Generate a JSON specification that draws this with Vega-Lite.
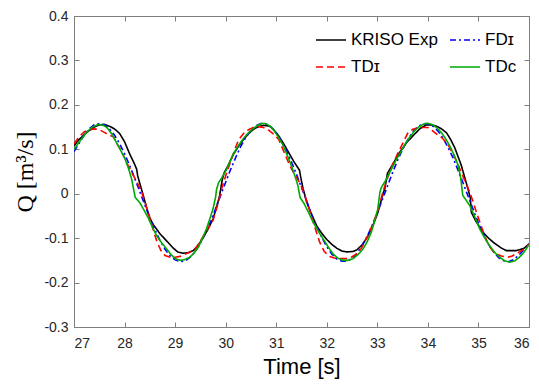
{
  "$schema": "https://vega.github.io/schema/vega-lite/v6.json",
  "width": 455,
  "height": 311,
  "autosize": {"type": "none"},
  "padding": {"left": 74, "top": 16, "right": 10, "bottom": 58},
  "background": "white",
  "config": {
    "view": {"stroke": "#7f7f7f", "strokeWidth": 1},
    "font": "Liberation Sans",
    "axis": {
      "grid": false,
      "domainColor": "#7f7f7f",
      "tickColor": "#7f7f7f",
      "labelColor": "#262626",
      "labelFont": "Liberation Sans",
      "labelFontSize": 14,
      "tickSize": -5,
      "titleColor": "#000000",
      "titleFontWeight": "normal"
    },
    "legend": {
      "orient": "none",
      "legendX": 241,
      "legendY": 8,
      "columns": 2,
      "symbolType": "stroke",
      "symbolSize": 900,
      "symbolStrokeWidth": 1.6,
      "labelFont": "Liberation Sans",
      "labelFontSize": 17,
      "labelColor": "#000000",
      "labelOffset": 4,
      "columnPadding": 8,
      "rowPadding": 3,
      "padding": 0
    }
  },
  "data": {
    "values": [
      {"s":"KRISO Exp","t":27.0,"q":0.108},{"s":"KRISO Exp","t":27.1,"q":0.122},{"s":"KRISO Exp","t":27.25,"q":0.138},{"s":"KRISO Exp","t":27.4,"q":0.150},{"s":"KRISO Exp","t":27.5,"q":0.155},{"s":"KRISO Exp","t":27.6,"q":0.156},{"s":"KRISO Exp","t":27.7,"q":0.152},{"s":"KRISO Exp","t":27.8,"q":0.146},{"s":"KRISO Exp","t":27.9,"q":0.136},{"s":"KRISO Exp","t":28.0,"q":0.117},{"s":"KRISO Exp","t":28.1,"q":0.090},{"s":"KRISO Exp","t":28.2,"q":0.066},{"s":"KRISO Exp","t":28.24,"q":0.055},{"s":"KRISO Exp","t":28.26,"q":0.040},{"s":"KRISO Exp","t":28.3,"q":0.024},{"s":"KRISO Exp","t":28.37,"q":-0.004},{"s":"KRISO Exp","t":28.44,"q":-0.033},{"s":"KRISO Exp","t":28.5,"q":-0.055},{"s":"KRISO Exp","t":28.57,"q":-0.070},{"s":"KRISO Exp","t":28.7,"q":-0.090},{"s":"KRISO Exp","t":28.83,"q":-0.106},{"s":"KRISO Exp","t":28.96,"q":-0.122},{"s":"KRISO Exp","t":29.05,"q":-0.131},{"s":"KRISO Exp","t":29.15,"q":-0.134},{"s":"KRISO Exp","t":29.25,"q":-0.133},{"s":"KRISO Exp","t":29.36,"q":-0.128},{"s":"KRISO Exp","t":29.45,"q":-0.117},{"s":"KRISO Exp","t":29.55,"q":-0.100},{"s":"KRISO Exp","t":29.65,"q":-0.080},{"s":"KRISO Exp","t":29.75,"q":-0.057},{"s":"KRISO Exp","t":29.82,"q":-0.030},{"s":"KRISO Exp","t":29.88,"q":-0.005},{"s":"KRISO Exp","t":29.93,"q":0.030},{"s":"KRISO Exp","t":29.97,"q":0.047},{"s":"KRISO Exp","t":30.05,"q":0.064},{"s":"KRISO Exp","t":30.15,"q":0.088},{"s":"KRISO Exp","t":30.25,"q":0.106},{"s":"KRISO Exp","t":30.35,"q":0.122},{"s":"KRISO Exp","t":30.45,"q":0.135},{"s":"KRISO Exp","t":30.55,"q":0.145},{"s":"KRISO Exp","t":30.65,"q":0.151},{"s":"KRISO Exp","t":30.75,"q":0.154},{"s":"KRISO Exp","t":30.87,"q":0.152},{"s":"KRISO Exp","t":30.95,"q":0.144},{"s":"KRISO Exp","t":31.05,"q":0.130},{"s":"KRISO Exp","t":31.15,"q":0.112},{"s":"KRISO Exp","t":31.25,"q":0.092},{"s":"KRISO Exp","t":31.35,"q":0.072},{"s":"KRISO Exp","t":31.46,"q":0.053},{"s":"KRISO Exp","t":31.48,"q":0.040},{"s":"KRISO Exp","t":31.53,"q":0.012},{"s":"KRISO Exp","t":31.6,"q":-0.018},{"s":"KRISO Exp","t":31.7,"q":-0.047},{"s":"KRISO Exp","t":31.8,"q":-0.072},{"s":"KRISO Exp","t":31.9,"q":-0.089},{"s":"KRISO Exp","t":32.0,"q":-0.103},{"s":"KRISO Exp","t":32.1,"q":-0.114},{"s":"KRISO Exp","t":32.2,"q":-0.123},{"s":"KRISO Exp","t":32.3,"q":-0.129},{"s":"KRISO Exp","t":32.4,"q":-0.131},{"s":"KRISO Exp","t":32.52,"q":-0.130},{"s":"KRISO Exp","t":32.6,"q":-0.126},{"s":"KRISO Exp","t":32.7,"q":-0.115},{"s":"KRISO Exp","t":32.8,"q":-0.098},{"s":"KRISO Exp","t":32.9,"q":-0.075},{"s":"KRISO Exp","t":33.0,"q":-0.046},{"s":"KRISO Exp","t":33.07,"q":-0.018},{"s":"KRISO Exp","t":33.12,"q":0.003},{"s":"KRISO Exp","t":33.15,"q":0.012},{"s":"KRISO Exp","t":33.2,"q":0.046},{"s":"KRISO Exp","t":33.3,"q":0.065},{"s":"KRISO Exp","t":33.44,"q":0.093},{"s":"KRISO Exp","t":33.58,"q":0.115},{"s":"KRISO Exp","t":33.71,"q":0.131},{"s":"KRISO Exp","t":33.85,"q":0.147},{"s":"KRISO Exp","t":33.97,"q":0.155},{"s":"KRISO Exp","t":34.07,"q":0.155},{"s":"KRISO Exp","t":34.17,"q":0.152},{"s":"KRISO Exp","t":34.27,"q":0.146},{"s":"KRISO Exp","t":34.37,"q":0.137},{"s":"KRISO Exp","t":34.45,"q":0.122},{"s":"KRISO Exp","t":34.53,"q":0.104},{"s":"KRISO Exp","t":34.66,"q":0.064},{"s":"KRISO Exp","t":34.79,"q":0.012},{"s":"KRISO Exp","t":34.84,"q":-0.010},{"s":"KRISO Exp","t":34.86,"q":-0.042},{"s":"KRISO Exp","t":34.95,"q":-0.062},{"s":"KRISO Exp","t":35.09,"q":-0.087},{"s":"KRISO Exp","t":35.2,"q":-0.100},{"s":"KRISO Exp","t":35.3,"q":-0.110},{"s":"KRISO Exp","t":35.45,"q":-0.122},{"s":"KRISO Exp","t":35.55,"q":-0.128},{"s":"KRISO Exp","t":35.75,"q":-0.128},{"s":"KRISO Exp","t":35.9,"q":-0.123},{"s":"KRISO Exp","t":36.0,"q":-0.113},

      {"s":"FDɪ","t":27.0,"q":0.095},{"s":"FDɪ","t":27.1,"q":0.113},{"s":"FDɪ","t":27.2,"q":0.132},{"s":"FDɪ","t":27.3,"q":0.146},{"s":"FDɪ","t":27.4,"q":0.155},{"s":"FDɪ","t":27.5,"q":0.158},{"s":"FDɪ","t":27.6,"q":0.155},{"s":"FDɪ","t":27.7,"q":0.146},{"s":"FDɪ","t":27.8,"q":0.132},{"s":"FDɪ","t":27.9,"q":0.113},{"s":"FDɪ","t":28.0,"q":0.090},{"s":"FDɪ","t":28.1,"q":0.064},{"s":"FDɪ","t":28.2,"q":0.035},{"s":"FDɪ","t":28.3,"q":0.005},{"s":"FDɪ","t":28.4,"q":-0.025},{"s":"FDɪ","t":28.5,"q":-0.054},{"s":"FDɪ","t":28.6,"q":-0.081},{"s":"FDɪ","t":28.7,"q":-0.105},{"s":"FDɪ","t":28.8,"q":-0.125},{"s":"FDɪ","t":28.9,"q":-0.140},{"s":"FDɪ","t":29.0,"q":-0.149},{"s":"FDɪ","t":29.1,"q":-0.153},{"s":"FDɪ","t":29.2,"q":-0.151},{"s":"FDɪ","t":29.3,"q":-0.143},{"s":"FDɪ","t":29.4,"q":-0.130},{"s":"FDɪ","t":29.5,"q":-0.111},{"s":"FDɪ","t":29.6,"q":-0.089},{"s":"FDɪ","t":29.7,"q":-0.063},{"s":"FDɪ","t":29.8,"q":-0.034},{"s":"FDɪ","t":29.9,"q":-0.004},{"s":"FDɪ","t":30.0,"q":0.026},{"s":"FDɪ","t":30.1,"q":0.055},{"s":"FDɪ","t":30.2,"q":0.082},{"s":"FDɪ","t":30.3,"q":0.107},{"s":"FDɪ","t":30.4,"q":0.127},{"s":"FDɪ","t":30.5,"q":0.143},{"s":"FDɪ","t":30.6,"q":0.153},{"s":"FDɪ","t":30.7,"q":0.158},{"s":"FDɪ","t":30.8,"q":0.157},{"s":"FDɪ","t":30.9,"q":0.150},{"s":"FDɪ","t":31.0,"q":0.137},{"s":"FDɪ","t":31.1,"q":0.119},{"s":"FDɪ","t":31.2,"q":0.097},{"s":"FDɪ","t":31.3,"q":0.072},{"s":"FDɪ","t":31.4,"q":0.044},{"s":"FDɪ","t":31.5,"q":0.014},{"s":"FDɪ","t":31.6,"q":-0.016},{"s":"FDɪ","t":31.7,"q":-0.046},{"s":"FDɪ","t":31.8,"q":-0.074},{"s":"FDɪ","t":31.9,"q":-0.098},{"s":"FDɪ","t":32.0,"q":-0.119},{"s":"FDɪ","t":32.1,"q":-0.136},{"s":"FDɪ","t":32.2,"q":-0.147},{"s":"FDɪ","t":32.3,"q":-0.152},{"s":"FDɪ","t":32.4,"q":-0.152},{"s":"FDɪ","t":32.5,"q":-0.146},{"s":"FDɪ","t":32.6,"q":-0.134},{"s":"FDɪ","t":32.7,"q":-0.117},{"s":"FDɪ","t":32.8,"q":-0.096},{"s":"FDɪ","t":32.9,"q":-0.071},{"s":"FDɪ","t":33.0,"q":-0.043},{"s":"FDɪ","t":33.1,"q":-0.013},{"s":"FDɪ","t":33.2,"q":0.017},{"s":"FDɪ","t":33.3,"q":0.047},{"s":"FDɪ","t":33.4,"q":0.075},{"s":"FDɪ","t":33.5,"q":0.100},{"s":"FDɪ","t":33.6,"q":0.121},{"s":"FDɪ","t":33.7,"q":0.139},{"s":"FDɪ","t":33.8,"q":0.151},{"s":"FDɪ","t":33.9,"q":0.157},{"s":"FDɪ","t":34.0,"q":0.158},{"s":"FDɪ","t":34.1,"q":0.152},{"s":"FDɪ","t":34.2,"q":0.141},{"s":"FDɪ","t":34.3,"q":0.125},{"s":"FDɪ","t":34.4,"q":0.104},{"s":"FDɪ","t":34.5,"q":0.080},{"s":"FDɪ","t":34.6,"q":0.052},{"s":"FDɪ","t":34.7,"q":0.023},{"s":"FDɪ","t":34.8,"q":-0.007},{"s":"FDɪ","t":34.9,"q":-0.037},{"s":"FDɪ","t":35.0,"q":-0.066},{"s":"FDɪ","t":35.1,"q":-0.091},{"s":"FDɪ","t":35.2,"q":-0.114},{"s":"FDɪ","t":35.3,"q":-0.131},{"s":"FDɪ","t":35.4,"q":-0.144},{"s":"FDɪ","t":35.5,"q":-0.151},{"s":"FDɪ","t":35.6,"q":-0.153},{"s":"FDɪ","t":35.7,"q":-0.148},{"s":"FDɪ","t":35.8,"q":-0.138},{"s":"FDɪ","t":35.9,"q":-0.126},{"s":"FDɪ","t":36.0,"q":-0.112},

      {"s":"TDɪ","t":27.0,"q":0.112},{"s":"TDɪ","t":27.1,"q":0.128},{"s":"TDɪ","t":27.2,"q":0.139},{"s":"TDɪ","t":27.3,"q":0.144},{"s":"TDɪ","t":27.4,"q":0.146},{"s":"TDɪ","t":27.5,"q":0.144},{"s":"TDɪ","t":27.6,"q":0.138},{"s":"TDɪ","t":27.7,"q":0.132},{"s":"TDɪ","t":27.78,"q":0.128},{"s":"TDɪ","t":27.85,"q":0.113},{"s":"TDɪ","t":27.92,"q":0.099},{"s":"TDɪ","t":28.0,"q":0.081},{"s":"TDɪ","t":28.07,"q":0.064},{"s":"TDɪ","t":28.15,"q":0.046},{"s":"TDɪ","t":28.24,"q":0.028},{"s":"TDɪ","t":28.34,"q":0.003},{"s":"TDɪ","t":28.42,"q":-0.025},{"s":"TDɪ","t":28.5,"q":-0.055},{"s":"TDɪ","t":28.57,"q":-0.082},{"s":"TDɪ","t":28.64,"q":-0.108},{"s":"TDɪ","t":28.72,"q":-0.128},{"s":"TDɪ","t":28.8,"q":-0.139},{"s":"TDɪ","t":28.9,"q":-0.143},{"s":"TDɪ","t":29.0,"q":-0.143},{"s":"TDɪ","t":29.1,"q":-0.141},{"s":"TDɪ","t":29.2,"q":-0.136},{"s":"TDɪ","t":29.3,"q":-0.131},{"s":"TDɪ","t":29.4,"q":-0.124},{"s":"TDɪ","t":29.5,"q":-0.107},{"s":"TDɪ","t":29.6,"q":-0.087},{"s":"TDɪ","t":29.75,"q":-0.060},{"s":"TDɪ","t":29.85,"q":-0.022},{"s":"TDɪ","t":29.92,"q":0.011},{"s":"TDɪ","t":30.0,"q":0.040},{"s":"TDɪ","t":30.12,"q":0.080},{"s":"TDɪ","t":30.25,"q":0.120},{"s":"TDɪ","t":30.35,"q":0.135},{"s":"TDɪ","t":30.45,"q":0.144},{"s":"TDɪ","t":30.55,"q":0.149},{"s":"TDɪ","t":30.65,"q":0.151},{"s":"TDɪ","t":30.75,"q":0.149},{"s":"TDɪ","t":30.85,"q":0.143},{"s":"TDɪ","t":30.95,"q":0.134},{"s":"TDɪ","t":31.05,"q":0.122},{"s":"TDɪ","t":31.15,"q":0.095},{"s":"TDɪ","t":31.27,"q":0.063},{"s":"TDɪ","t":31.37,"q":0.042},{"s":"TDɪ","t":31.47,"q":0.024},{"s":"TDɪ","t":31.55,"q":0.002},{"s":"TDɪ","t":31.62,"q":-0.022},{"s":"TDɪ","t":31.68,"q":-0.045},{"s":"TDɪ","t":31.76,"q":-0.074},{"s":"TDɪ","t":31.86,"q":-0.109},{"s":"TDɪ","t":31.95,"q":-0.130},{"s":"TDɪ","t":32.05,"q":-0.141},{"s":"TDɪ","t":32.19,"q":-0.146},{"s":"TDɪ","t":32.39,"q":-0.146},{"s":"TDɪ","t":32.5,"q":-0.142},{"s":"TDɪ","t":32.6,"q":-0.135},{"s":"TDɪ","t":32.69,"q":-0.122},{"s":"TDɪ","t":32.8,"q":-0.097},{"s":"TDɪ","t":32.92,"q":-0.066},{"s":"TDɪ","t":33.02,"q":-0.035},{"s":"TDɪ","t":33.11,"q":0.004},{"s":"TDɪ","t":33.2,"q":0.035},{"s":"TDɪ","t":33.3,"q":0.065},{"s":"TDɪ","t":33.4,"q":0.090},{"s":"TDɪ","t":33.51,"q":0.115},{"s":"TDɪ","t":33.6,"q":0.136},{"s":"TDɪ","t":33.7,"q":0.145},{"s":"TDɪ","t":33.84,"q":0.149},{"s":"TDɪ","t":34.0,"q":0.149},{"s":"TDɪ","t":34.1,"q":0.141},{"s":"TDɪ","t":34.2,"q":0.132},{"s":"TDɪ","t":34.28,"q":0.126},{"s":"TDɪ","t":34.4,"q":0.110},{"s":"TDɪ","t":34.5,"q":0.089},{"s":"TDɪ","t":34.6,"q":0.065},{"s":"TDɪ","t":34.69,"q":0.040},{"s":"TDɪ","t":34.76,"q":0.022},{"s":"TDɪ","t":34.83,"q":0.003},{"s":"TDɪ","t":34.9,"q":-0.020},{"s":"TDɪ","t":34.96,"q":-0.042},{"s":"TDɪ","t":35.04,"q":-0.068},{"s":"TDɪ","t":35.12,"q":-0.094},{"s":"TDɪ","t":35.2,"q":-0.115},{"s":"TDɪ","t":35.27,"q":-0.127},{"s":"TDɪ","t":35.35,"q":-0.135},{"s":"TDɪ","t":35.45,"q":-0.140},{"s":"TDɪ","t":35.58,"q":-0.143},{"s":"TDɪ","t":35.67,"q":-0.140},{"s":"TDɪ","t":35.75,"q":-0.135},{"s":"TDɪ","t":35.85,"q":-0.128},{"s":"TDɪ","t":35.92,"q":-0.123},{"s":"TDɪ","t":36.0,"q":-0.113},

      {"s":"TDᴄ","t":27.0,"q":0.100},{"s":"TDᴄ","t":27.1,"q":0.116},{"s":"TDᴄ","t":27.25,"q":0.138},{"s":"TDᴄ","t":27.35,"q":0.149},{"s":"TDᴄ","t":27.48,"q":0.156},{"s":"TDᴄ","t":27.58,"q":0.154},{"s":"TDᴄ","t":27.65,"q":0.149},{"s":"TDᴄ","t":27.75,"q":0.134},{"s":"TDᴄ","t":27.84,"q":0.115},{"s":"TDᴄ","t":27.93,"q":0.096},{"s":"TDᴄ","t":28.01,"q":0.078},{"s":"TDᴄ","t":28.08,"q":0.056},{"s":"TDᴄ","t":28.14,"q":0.033},{"s":"TDᴄ","t":28.21,"q":-0.008},{"s":"TDᴄ","t":28.3,"q":-0.020},{"s":"TDᴄ","t":28.4,"q":-0.040},{"s":"TDᴄ","t":28.47,"q":-0.055},{"s":"TDᴄ","t":28.55,"q":-0.075},{"s":"TDᴄ","t":28.63,"q":-0.094},{"s":"TDᴄ","t":28.73,"q":-0.110},{"s":"TDᴄ","t":28.83,"q":-0.124},{"s":"TDᴄ","t":28.92,"q":-0.137},{"s":"TDᴄ","t":29.0,"q":-0.146},{"s":"TDᴄ","t":29.1,"q":-0.150},{"s":"TDᴄ","t":29.2,"q":-0.148},{"s":"TDᴄ","t":29.29,"q":-0.143},{"s":"TDᴄ","t":29.38,"q":-0.133},{"s":"TDᴄ","t":29.46,"q":-0.120},{"s":"TDᴄ","t":29.54,"q":-0.101},{"s":"TDᴄ","t":29.62,"q":-0.079},{"s":"TDᴄ","t":29.7,"q":-0.052},{"s":"TDᴄ","t":29.75,"q":-0.034},{"s":"TDᴄ","t":29.8,"q":-0.008},{"s":"TDᴄ","t":29.82,"q":0.010},{"s":"TDᴄ","t":29.86,"q":0.025},{"s":"TDᴄ","t":29.92,"q":0.035},{"s":"TDᴄ","t":30.02,"q":0.055},{"s":"TDᴄ","t":30.15,"q":0.089},{"s":"TDᴄ","t":30.25,"q":0.108},{"s":"TDᴄ","t":30.35,"q":0.124},{"s":"TDᴄ","t":30.45,"q":0.137},{"s":"TDᴄ","t":30.54,"q":0.146},{"s":"TDᴄ","t":30.62,"q":0.153},{"s":"TDᴄ","t":30.71,"q":0.158},{"s":"TDᴄ","t":30.78,"q":0.158},{"s":"TDᴄ","t":30.84,"q":0.155},{"s":"TDᴄ","t":30.9,"q":0.150},{"s":"TDᴄ","t":30.97,"q":0.140},{"s":"TDᴄ","t":31.05,"q":0.126},{"s":"TDᴄ","t":31.14,"q":0.108},{"s":"TDᴄ","t":31.22,"q":0.086},{"s":"TDᴄ","t":31.3,"q":0.063},{"s":"TDᴄ","t":31.37,"q":0.040},{"s":"TDᴄ","t":31.43,"q":0.018},{"s":"TDᴄ","t":31.47,"q":-0.008},{"s":"TDᴄ","t":31.55,"q":-0.022},{"s":"TDᴄ","t":31.63,"q":-0.040},{"s":"TDᴄ","t":31.73,"q":-0.064},{"s":"TDᴄ","t":31.83,"q":-0.084},{"s":"TDᴄ","t":31.93,"q":-0.102},{"s":"TDᴄ","t":32.03,"q":-0.120},{"s":"TDᴄ","t":32.12,"q":-0.135},{"s":"TDᴄ","t":32.22,"q":-0.145},{"s":"TDᴄ","t":32.32,"q":-0.150},{"s":"TDᴄ","t":32.42,"q":-0.150},{"s":"TDᴄ","t":32.52,"q":-0.146},{"s":"TDᴄ","t":32.62,"q":-0.137},{"s":"TDᴄ","t":32.72,"q":-0.124},{"s":"TDᴄ","t":32.8,"q":-0.108},{"s":"TDᴄ","t":32.88,"q":-0.087},{"s":"TDᴄ","t":32.95,"q":-0.060},{"s":"TDᴄ","t":33.01,"q":-0.034},{"s":"TDᴄ","t":33.05,"q":0.003},{"s":"TDᴄ","t":33.08,"q":0.014},{"s":"TDᴄ","t":33.15,"q":0.027},{"s":"TDᴄ","t":33.21,"q":0.040},{"s":"TDᴄ","t":33.3,"q":0.060},{"s":"TDᴄ","t":33.38,"q":0.078},{"s":"TDᴄ","t":33.44,"q":0.089},{"s":"TDᴄ","t":33.54,"q":0.110},{"s":"TDᴄ","t":33.64,"q":0.127},{"s":"TDᴄ","t":33.74,"q":0.142},{"s":"TDᴄ","t":33.84,"q":0.152},{"s":"TDᴄ","t":33.94,"q":0.158},{"s":"TDᴄ","t":34.02,"q":0.158},{"s":"TDᴄ","t":34.1,"q":0.155},{"s":"TDᴄ","t":34.18,"q":0.148},{"s":"TDᴄ","t":34.27,"q":0.137},{"s":"TDᴄ","t":34.35,"q":0.124},{"s":"TDᴄ","t":34.43,"q":0.108},{"s":"TDᴄ","t":34.52,"q":0.087},{"s":"TDᴄ","t":34.6,"q":0.063},{"s":"TDᴄ","t":34.65,"q":0.035},{"s":"TDᴄ","t":34.69,"q":-0.004},{"s":"TDᴄ","t":34.76,"q":-0.015},{"s":"TDᴄ","t":34.83,"q":-0.027},{"s":"TDᴄ","t":34.92,"q":-0.050},{"s":"TDᴄ","t":35.02,"q":-0.078},{"s":"TDᴄ","t":35.12,"q":-0.099},{"s":"TDᴄ","t":35.22,"q":-0.117},{"s":"TDᴄ","t":35.32,"q":-0.132},{"s":"TDᴄ","t":35.42,"q":-0.143},{"s":"TDᴄ","t":35.52,"q":-0.151},{"s":"TDᴄ","t":35.62,"q":-0.154},{"s":"TDᴄ","t":35.72,"q":-0.151},{"s":"TDᴄ","t":35.81,"q":-0.143},{"s":"TDᴄ","t":35.9,"q":-0.132},{"s":"TDᴄ","t":35.98,"q":-0.118},{"s":"TDᴄ","t":36.0,"q":-0.115}
    ]
  },
  "layer": [
    {
      "mark": {"type": "line", "strokeWidth": 1.6, "clip": true},
      "encoding": {
        "x": {
          "field": "t", "type": "quantitative",
          "scale": {"domain": [27, 36], "nice": false, "zero": false},
          "axis": {
            "values": [27, 28, 29, 30, 31, 32, 33, 34, 35, 36],
            "title": "Time [s]",
            "titleFont": "Liberation Sans",
            "titleFontSize": 22,
            "titlePadding": 6,
            "labelPadding": 14
          }
        },
        "y": {
          "field": "q", "type": "quantitative",
          "scale": {"domain": [-0.3, 0.4], "nice": false, "zero": false},
          "axis": {
            "values": [-0.3, -0.2, -0.1, 0, 0.1, 0.2, 0.3, 0.4],
            "labelExpr": "replace(format(datum.value, '.1~f'), '−', '-')",
            "title": "Q [m³/s]",
            "titleFont": "Liberation Serif",
            "titleFontSize": 24,
            "titlePadding": 6,
            "labelPadding": 11
          }
        },
        "color": {
          "field": "s", "type": "nominal",
          "scale": {"domain": ["KRISO Exp", "TDɪ", "FDɪ", "TDᴄ"], "range": ["#000000", "#ff0000", "#0000ff", "#00aa00"]},
          "legend": {"title": null}
        },
        "strokeDash": {
          "field": "s", "type": "nominal",
          "scale": {"domain": ["KRISO Exp", "TDɪ", "FDɪ", "TDᴄ"], "range": [[1, 0], [7, 4], [6, 3, 2, 3], [1, 0]]},
          "legend": {"title": null}
        }
      }
    },
    {
      "mark": {"type": "line", "opacity": 0},
      "encoding": {
        "x": {"field": "t", "type": "quantitative", "axis": {"orient": "top", "values": [27, 28, 29, 30, 31, 32, 33, 34, 35, 36], "labels": false, "title": null}},
        "y": {"field": "q", "type": "quantitative", "axis": {"orient": "right", "values": [-0.3, -0.2, -0.1, 0, 0.1, 0.2, 0.3, 0.4], "labels": false, "title": null}},
        "detail": {"field": "s"}
      }
    }
  ],
  "resolve": {"axis": {"x": "independent", "y": "independent"}}
}
